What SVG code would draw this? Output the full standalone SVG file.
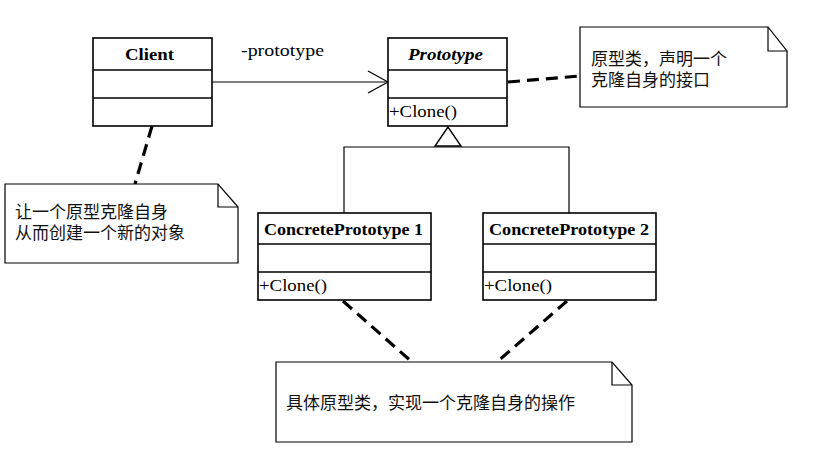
<svg xmlns="http://www.w3.org/2000/svg" width="826" height="455" viewBox="0 0 826 455">
<style>
.box{fill:#fff;stroke:#000;stroke-width:1.6}
.div{stroke:#000;stroke-width:1.4;fill:none}
.line{stroke:#000;stroke-width:1.2;fill:none}
.dash{stroke:#000;stroke-width:3.2;fill:none;stroke-dasharray:12 7}
.note{fill:#fff;stroke:#000;stroke-width:1.2}
.name{font-family:"Liberation Serif",serif;font-size:16px;font-weight:bold;fill:#000}
.op{font-family:"Liberation Serif",serif;font-size:16px;fill:#000}
.cn{font-family:"Liberation Sans","Noto Sans CJK SC",sans-serif;font-size:17px;fill:#111}
</style>
<rect width="826" height="455" fill="#fff"/>
<g id="connectors">
<line class="line" x1="212" y1="82" x2="387" y2="82"/>
<polyline class="line" points="368,71 388,82 368,93"/>
<text class="op" x="241" y="56" textLength="83" lengthAdjust="spacingAndGlyphs">-prototype</text>
<polyline class="line" points="344,213 344,147 569,147 569,213"/>
<polygon points="448,127 435,146 461,146" fill="#fff" stroke="#000" stroke-width="1.4"/>
<line class="dash" x1="508" y1="82" x2="580" y2="76"/>
<line class="dash" x1="152" y1="126" x2="135" y2="184"/>
<line class="dash" x1="343" y1="301" x2="412" y2="362"/>
<line class="dash" x1="567" y1="301" x2="497" y2="362"/>
</g>
<g id="client">
<rect class="box" x="93" y="38" width="119" height="88"/>
<line class="div" x1="93" y1="70" x2="212" y2="70"/>
<line class="div" x1="93" y1="98" x2="212" y2="98"/>
<text class="name" x="125" y="60" textLength="49" lengthAdjust="spacingAndGlyphs">Client</text>
</g>
<g id="prototype">
<rect class="box" x="388" y="38" width="119" height="88"/>
<line class="div" x1="388" y1="70" x2="507" y2="70"/>
<line class="div" x1="388" y1="98" x2="507" y2="98"/>
<text class="name" x="408" y="60" font-style="italic" textLength="75" lengthAdjust="spacingAndGlyphs">Prototype</text>
<text class="op" x="389" y="117" textLength="68" lengthAdjust="spacingAndGlyphs">+Clone()</text>
</g>
<g id="concrete1">
<rect class="box" x="258" y="213" width="173" height="87"/>
<line class="div" x1="258" y1="244" x2="431" y2="244"/>
<line class="div" x1="258" y1="272" x2="431" y2="272"/>
<text class="name" x="264" y="235" textLength="159" lengthAdjust="spacingAndGlyphs">ConcretePrototype 1</text>
<text class="op" x="259" y="291" textLength="68" lengthAdjust="spacingAndGlyphs">+Clone()</text>
</g>
<g id="concrete2">
<rect class="box" x="483" y="213" width="173" height="87"/>
<line class="div" x1="483" y1="244" x2="656" y2="244"/>
<line class="div" x1="483" y1="272" x2="656" y2="272"/>
<text class="name" x="489" y="235" textLength="160" lengthAdjust="spacingAndGlyphs">ConcretePrototype 2</text>
<text class="op" x="484" y="291" textLength="68" lengthAdjust="spacingAndGlyphs">+Clone()</text>
</g>
<g id="note-prototype">
<polygon class="note" points="580,27 768,27 787,51 787,107 580,107"/>
<polyline class="line" points="768,27 768,51 787,51"/>
<text class="cn" x="591" y="65">原型类，声明一个</text>
<text class="cn" x="591" y="86">克隆自身的接口</text>
</g>
<g id="note-client">
<polygon class="note" points="5,184 218,184 238,207 238,263 5,263"/>
<polyline class="line" points="218,184 218,207 238,207"/>
<text class="cn" x="15" y="218">让一个原型克隆自身</text>
<text class="cn" x="15" y="239">从而创建一个新的对象</text>
</g>
<g id="note-concrete">
<polygon class="note" points="276,362 612,362 632,385 632,442 276,442"/>
<polyline class="line" points="612,362 612,385 632,385"/>
<text class="cn" x="286" y="409">具体原型类，实现一个克隆自身的操作</text>
</g>
</svg>
